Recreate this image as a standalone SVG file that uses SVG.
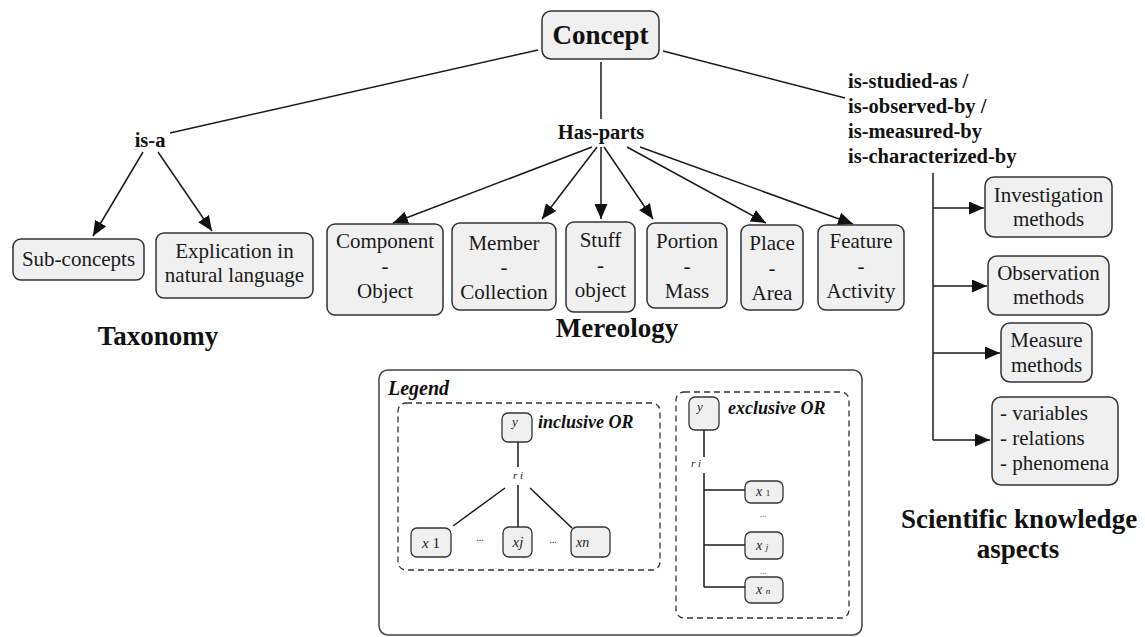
<svg xmlns="http://www.w3.org/2000/svg" width="1145" height="637" viewBox="0 0 1145 637">
<defs>
<marker id="arr" markerUnits="userSpaceOnUse" markerWidth="15" markerHeight="13" refX="15" refY="6.5" orient="auto">
<path d="M0,0 L15,6.5 L0,13 z" fill="#111"/>
</marker>
<style>
text{font-family:'Liberation Serif','Times New Roman','DejaVu Serif',serif}
.box{fill:#f0f0f0;stroke:#333;stroke-width:1.5}
.t{font-size:21px;fill:#1a1a1a;text-anchor:middle}
.b{font-weight:bold;font-size:20.5px;fill:#111}
.h{font-weight:bold;font-size:27px;fill:#111;text-anchor:middle}
.ln{stroke:#1a1a1a;stroke-width:1.5;fill:none}
.ar{stroke:#1a1a1a;stroke-width:1.5;fill:none;marker-end:url(#arr)}
.dash{fill:none;stroke:#333;stroke-width:1.3;stroke-dasharray:6,4}
.sm{font-style:italic;fill:#222}
.bi{font-style:italic;font-weight:bold;fill:#111}
.lbox{fill:#f0f0f0;stroke:#333;stroke-width:1.3}
</style>
</defs>
<rect width="1145" height="637" fill="#fff"/>

<g id="connectors">
<line class="ln" x1="538" y1="50" x2="170" y2="133"/>
<line class="ln" x1="601" y1="62" x2="601" y2="119"/>
<line class="ln" x1="663" y1="51" x2="845" y2="98"/>
<line class="ar" x1="143" y1="152" x2="93" y2="236"/>
<line class="ar" x1="158" y1="152" x2="212" y2="231"/>
<line class="ar" x1="592" y1="147" x2="393" y2="223"/>
<line class="ar" x1="597" y1="147" x2="542" y2="219"/>
<line class="ar" x1="601" y1="147" x2="601" y2="219"/>
<line class="ar" x1="604" y1="147" x2="653" y2="219"/>
<line class="ar" x1="627" y1="147" x2="766" y2="223"/>
<line class="ar" x1="640" y1="147" x2="853" y2="224"/>
<line class="ln" x1="933" y1="173" x2="933" y2="440"/>
<line class="ar" x1="933" y1="208" x2="984" y2="208"/>
<line class="ar" x1="933" y1="286" x2="987" y2="286"/>
<line class="ar" x1="933" y1="353" x2="1000" y2="353"/>
<line class="ar" x1="933" y1="440" x2="990" y2="440"/>
</g>

<g id="concept">
<rect class="box" x="542" y="11" width="117" height="48" rx="9"/>
<text x="600.5" y="44" class="h">Concept</text>
</g>

<g id="label-isa"><text x="150" y="147" class="b" text-anchor="middle">is-a</text></g>
<g id="label-hasparts"><text x="601" y="139" class="b" text-anchor="middle">Has-parts</text></g>
<g id="label-studied">
<text x="848" y="88" class="b">is-studied-as /</text>
<text x="848" y="113" class="b">is-observed-by /</text>
<text x="848" y="138" class="b">is-measured-by</text>
<text x="848" y="163" class="b">is-characterized-by</text>
</g>

<g id="subconcepts">
<rect class="box" x="13" y="239" width="131" height="41" rx="8"/>
<text x="78.5" y="266" class="t">Sub-concepts</text>
</g>
<g id="explication">
<rect class="box" x="156" y="233" width="157" height="65" rx="8"/>
<text x="234.5" y="258" class="t">Explication in</text>
<text x="234.5" y="282" class="t">natural language</text>
</g>

<g id="component">
<rect class="box" x="327" y="224" width="116" height="91" rx="8"/>
<text x="385" y="248" class="t">Component</text>
<text x="385" y="273" class="t">-</text>
<text x="385" y="298" class="t">Object</text>
</g>
<g id="member">
<rect class="box" x="452" y="223" width="104" height="87" rx="8"/>
<text x="504" y="250" class="t">Member</text>
<text x="504" y="274" class="t">-</text>
<text x="504" y="299" class="t">Collection</text>
</g>
<g id="stuff">
<rect class="box" x="566" y="222" width="69" height="90" rx="8"/>
<text x="600.5" y="247" class="t">Stuff</text>
<text x="600.5" y="272" class="t">-</text>
<text x="600.5" y="297" class="t">object</text>
</g>
<g id="portion">
<rect class="box" x="647" y="223" width="80" height="85" rx="8"/>
<text x="687" y="248" class="t">Portion</text>
<text x="687" y="273" class="t">-</text>
<text x="687" y="298" class="t">Mass</text>
</g>
<g id="place">
<rect class="box" x="741" y="225" width="62" height="85" rx="8"/>
<text x="772" y="250" class="t">Place</text>
<text x="772" y="275" class="t">-</text>
<text x="772" y="300" class="t">Area</text>
</g>
<g id="feature">
<rect class="box" x="818" y="225" width="86" height="85" rx="8"/>
<text x="861" y="248" class="t">Feature</text>
<text x="861" y="273" class="t">-</text>
<text x="861" y="298" class="t">Activity</text>
</g>

<g id="investigation">
<rect class="box" x="985" y="177" width="127" height="60" rx="9"/>
<text x="1048.5" y="202" class="t">Investigation</text>
<text x="1048.5" y="226" class="t">methods</text>
</g>
<g id="observation">
<rect class="box" x="988" y="256" width="121" height="59" rx="9"/>
<text x="1048.5" y="280" class="t">Observation</text>
<text x="1048.5" y="304" class="t">methods</text>
</g>
<g id="measure">
<rect class="box" x="1001" y="323" width="91" height="59" rx="9"/>
<text x="1046.5" y="347" class="t">Measure</text>
<text x="1046.5" y="372" class="t">methods</text>
</g>
<g id="variables">
<rect class="box" x="992" y="397" width="126" height="88" rx="9"/>
<text x="1000" y="420" class="t" style="text-anchor:start">- variables</text>
<text x="1000" y="445" class="t" style="text-anchor:start">- relations</text>
<text x="1000" y="470" class="t" style="text-anchor:start">- phenomena</text>
</g>

<g id="titles">
<text x="158" y="345" class="h">Taxonomy</text>
<text x="617" y="337" class="h">Mereology</text>
<text x="1019" y="528" class="h">Scientific knowledge</text>
<text x="1018" y="558" class="h">aspects</text>
</g>

<g id="legend">
<rect x="379" y="370" width="483" height="265" rx="9" fill="none" stroke="#444" stroke-width="1.5"/>
<text x="388" y="395" class="bi" font-size="20">Legend</text>

<g id="inclusive">
<rect class="dash" x="398" y="403" width="262" height="167" rx="8"/>
<line class="ln" x1="518" y1="442" x2="518" y2="467" stroke-width="1.2"/>
<line class="ln" x1="518" y1="485" x2="518" y2="527" stroke-width="1.2"/>
<line class="ln" x1="505" y1="488" x2="453" y2="526" stroke-width="1.2"/>
<line class="ln" x1="530" y1="488" x2="572" y2="528" stroke-width="1.2"/>
<rect class="lbox" x="502" y="413" width="30" height="29" rx="6"/>
<text x="512" y="426" class="sm" font-size="13">y</text>
<text x="538" y="428" class="bi" font-size="18">inclusive  OR</text>
<text x="518" y="479" class="sm" font-size="11" text-anchor="middle">r i</text>
<rect class="lbox" x="411" y="528" width="40" height="29" rx="6"/>
<text x="431" y="548" font-size="15" text-anchor="middle" fill="#222"><tspan font-style="italic">x</tspan> 1</text>
<text x="480" y="541" font-size="10" text-anchor="middle" fill="#222">...</text>
<rect class="lbox" x="503" y="527" width="29" height="30" rx="6"/>
<text x="518" y="547" class="sm" font-size="15" text-anchor="middle">xj</text>
<text x="553" y="543" font-size="10" text-anchor="middle" fill="#222">...</text>
<rect class="lbox" x="571" y="527" width="39" height="30" rx="6"/>
<text x="576" y="547" class="sm" font-size="14">xn</text>
</g>

<g id="exclusive">
<rect class="dash" x="676" y="392" width="173" height="226" rx="8"/>
<rect class="lbox" x="689" y="397" width="30" height="33" rx="6"/>
<text x="697" y="411" class="sm" font-size="13">y</text>
<text x="728" y="414" class="bi" font-size="18">exclusive  OR</text>
<line class="ln" x1="704" y1="430" x2="704" y2="457" stroke-width="1.2"/>
<text x="696" y="467" class="sm" font-size="11" text-anchor="middle">r i</text>
<line class="ln" x1="704" y1="473" x2="704" y2="587" stroke-width="1.5"/>
<line class="ln" x1="704" y1="490" x2="745" y2="490" stroke-width="1.2"/>
<line class="ln" x1="704" y1="545" x2="745" y2="545" stroke-width="1.2"/>
<line class="ln" x1="704" y1="587" x2="745" y2="587" stroke-width="1.2"/>
<rect class="lbox" x="745" y="481" width="38" height="22" rx="6"/>
<text x="756" y="496" class="sm" font-size="14">x <tspan font-size="9" font-style="normal">1</tspan></text>
<text x="763" y="517" font-size="9" text-anchor="middle" fill="#222">...</text>
<rect class="lbox" x="745" y="532" width="38" height="27" rx="6"/>
<text x="756" y="550" class="sm" font-size="14">x <tspan font-size="9">j</tspan></text>
<text x="763" y="574" font-size="9" text-anchor="middle" fill="#222">...</text>
<rect class="lbox" x="745" y="577" width="38" height="26" rx="6"/>
<text x="756" y="594" class="sm" font-size="14">x <tspan font-size="9">n</tspan></text>
</g>
</g>
</svg>
